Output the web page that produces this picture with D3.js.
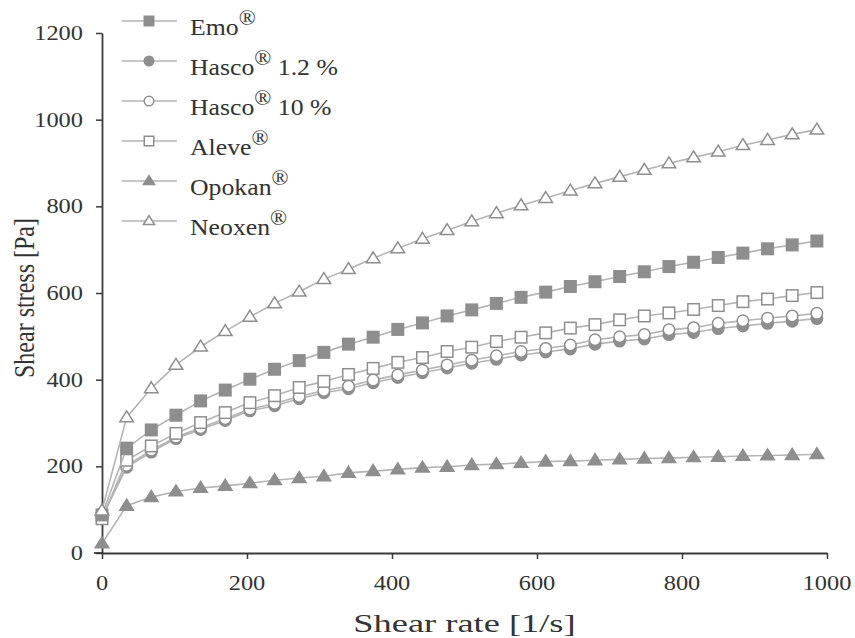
<!DOCTYPE html>
<html>
<head>
<meta charset="utf-8">
<script src="https://cdn.jsdelivr.net/npm/d3@7"></script>
<style>
  html, body { margin: 0; padding: 0; background: #fff; }
  svg { display: block; }
  text { font-family: "Liberation Serif", "Times New Roman", serif; fill: #333; }
</style>
</head>
<body>
<svg id="chart" width="855" height="638"></svg>
<script>
// ---- data ----
const shearRate = [0, 34, 68, 102, 136, 170, 204, 238, 272, 306, 340, 374, 408, 442, 476, 510, 544, 578, 612, 646, 680, 714, 748, 782, 816, 850, 884, 918, 952, 986];
const emo = [88, 242, 284, 318, 351, 376, 401, 424, 444, 463, 482, 498, 516, 531, 547, 561, 576, 590, 602, 615, 626, 638, 649, 661, 671, 682, 692, 702, 711, 720];
const hasco12 = [82, 198, 233, 264, 285, 306, 328, 340, 356, 370, 379, 393, 405, 416, 427, 438, 447, 457, 464, 471, 482, 489, 494, 504, 509, 518, 524, 530, 535, 541];
const hasco10 = [84, 202, 237, 267, 289, 310, 332, 345, 361, 375, 385, 399, 411, 422, 434, 445, 455, 465, 472, 480, 492, 499, 504, 515, 520, 530, 536, 542, 547, 553];
const aleve = [79, 214, 247, 276, 301, 324, 347, 363, 382, 396, 412, 426, 440, 451, 465, 475, 488, 498, 508, 519, 527, 538, 547, 554, 562, 571, 580, 586, 594, 601];
const opokan = [22, 109, 129, 142, 150, 155, 161, 168, 173, 177, 185, 189, 193, 197, 199, 203, 205, 208, 211, 212, 214, 216, 218, 219, 221, 222, 224, 225, 226, 228];
const neoxen = [98, 313, 380, 434, 476, 512, 545, 576, 603, 632, 655, 680, 703, 725, 745, 765, 784, 802, 819, 836, 853, 868, 884, 899, 913, 926, 941, 953, 966, 977];

const xTicks = [0, 200, 400, 600, 800, 1000];
const yTicks = [0, 200, 400, 600, 800, 1000, 1200];

const seriesNames = ["Emo", "Hasco", "Hasco", "Aleve", "Opokan", "Neoxen"];
const seriesSuffix = ["", " 1.2 %", " 10 %", "", "", ""];
const seriesValues = [emo, hasco12, hasco10, aleve, opokan, neoxen];
const seriesShape = ["square", "circle", "circle", "square", "triangle", "triangle"];
const seriesFilled = [true, true, false, false, true, false];

// ---- layout ----
const svg = d3.select("#chart");
const x = d3.scaleLinear().domain([0, 1000]).range([102, 827]);
const y = d3.scaleLinear().domain([0, 1200]).range([553, 33]);

const lineColor = "#b4b4b4";
const markColor = "#8e8e8e";
const axisColor = "#3a3a3a";

function stretchedText(g, px, py, anchor, size, sx) {
  return g.append("text")
    .attr("transform", `translate(${px},${py}) scale(${sx},1)`)
    .attr("text-anchor", anchor)
    .style("font-size", size + "px");
}

// axes
const xAxis = svg.append("g").attr("transform", `translate(0,${y(0)})`)
  .call(d3.axisBottom(x).tickValues(xTicks).tickSize(6).tickSizeOuter(0).tickFormat(""));
const yAxis = svg.append("g").attr("transform", `translate(${x(0)},0)`)
  .call(d3.axisLeft(y).tickValues(yTicks).tickSize(6).tickSizeOuter(0).tickFormat(""));
[xAxis, yAxis].forEach(a => {
  a.selectAll("path.domain").attr("stroke", axisColor).attr("stroke-width", 1.8);
  a.selectAll("line").attr("stroke", axisColor).attr("stroke-width", 1.5);
});
svg.append("line").attr("x1", x(0) - 8).attr("x2", x(0)).attr("y1", y(0)).attr("y2", y(0))
  .attr("stroke", axisColor).attr("stroke-width", 1.8);

// tick labels
xTicks.forEach(t => stretchedText(svg, x(t), y(0) + 37, "middle", 20, 1.22).text(t));
yTicks.forEach(t => stretchedText(svg, 83, y(t) + 7, "end", 20, 1.22).text(t));

// axis titles
stretchedText(svg, x(500), 632, "middle", 26, 1.4).text("Shear rate [1/s]");
svg.append("text")
  .attr("transform", `translate(34,${y(600) + 5}) scale(1.22,1) rotate(-90)`)
  .attr("text-anchor", "middle")
  .style("font-size", "24px")
  .text("Shear stress [Pa]");

// markers
function drawMarker(g, shape, filled, cx, cy, s) {
  const fill = filled ? markColor : "#fff";
  if (shape === "square") {
    g.append("rect").attr("x", cx - s / 2).attr("y", cy - s / 2).attr("width", s).attr("height", s)
      .attr("fill", fill).attr("stroke", markColor).attr("stroke-width", 1.5);
  } else if (shape === "circle") {
    g.append("circle").attr("cx", cx).attr("cy", cy).attr("r", s / 2)
      .attr("fill", fill).attr("stroke", markColor).attr("stroke-width", 1.5);
  } else {
    const h = s * 0.95, w = s * 1.18;
    g.append("path")
      .attr("d", `M${cx},${cy - h * 0.6}L${cx + w / 2},${cy + h * 0.4}L${cx - w / 2},${cy + h * 0.4}Z`)
      .attr("fill", fill).attr("stroke", markColor).attr("stroke-width", 1.5).attr("stroke-linejoin", "miter");
  }
}

const line = d3.line().x(d => x(d[0])).y(d => y(d[1]));
const order = [4, 1, 2, 3, 0, 5];
order.forEach(i => {
  const pts = shearRate.map((r, k) => [r, seriesValues[i][k]]);
  const g = svg.append("g");
  g.append("path").datum(pts).attr("d", line).attr("fill", "none")
    .attr("stroke", lineColor).attr("stroke-width", 1.6);
  pts.forEach(p => drawMarker(g, seriesShape[i], seriesFilled[i], x(p[0]), y(p[1]), 11.5));
});

// legend
seriesNames.forEach((name, i) => {
  const ly = 21 + i * 40;
  const g = svg.append("g");
  g.append("line").attr("x1", 122).attr("x2", 177).attr("y1", ly).attr("y2", ly)
    .attr("stroke", lineColor).attr("stroke-width", 1.6);
  drawMarker(g, seriesShape[i], seriesFilled[i], 149, ly, 9.5);
  const t = stretchedText(g, 190, ly + 14, "start", 23, 1.12);
  t.append("tspan").text(name);
  t.append("tspan").attr("dy", -10).style("font-size", "20px").text("®");
  if (seriesSuffix[i]) t.append("tspan").attr("dy", 10).text(seriesSuffix[i]);
});
</script>
</body>
</html>
